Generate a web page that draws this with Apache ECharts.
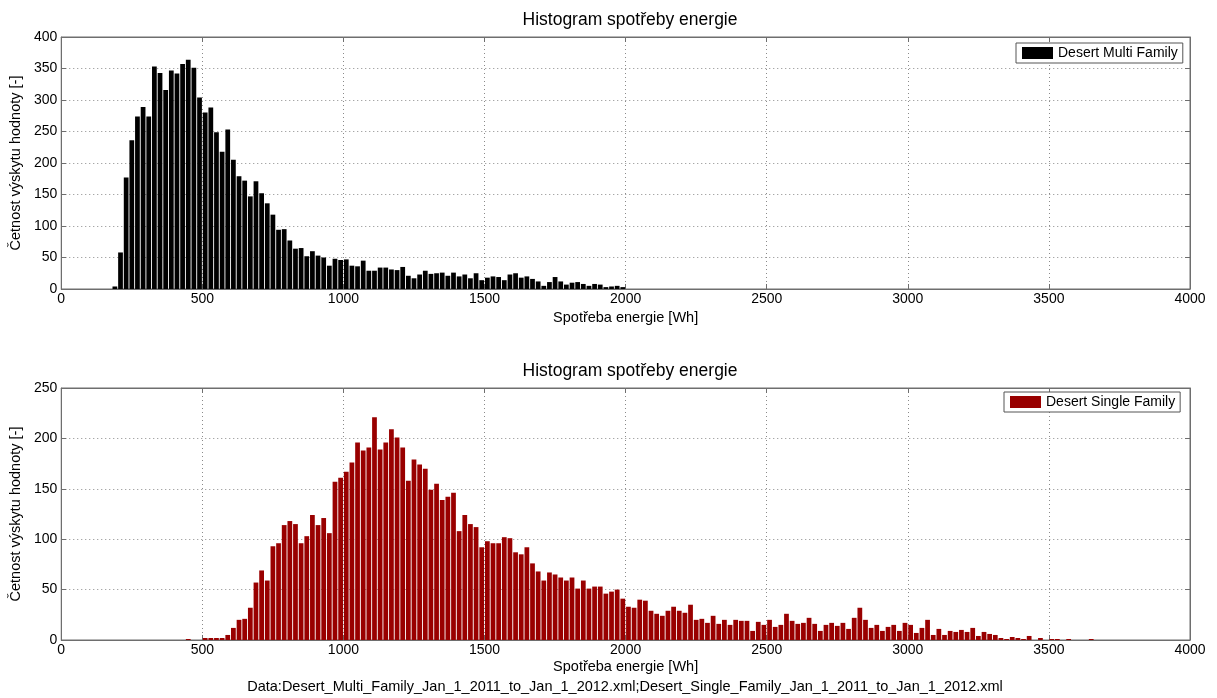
<!DOCTYPE html>
<html>
<head>
<meta charset="utf-8">
<script src="https://cdn.jsdelivr.net/npm/echarts@6/dist/echarts.min.js"></script>
<style>
  html, body { margin: 0; padding: 0; background: #fff; }
  #chart { width: 1217px; height: 698px; }
</style>
</head>
<body>
<div id="chart"></div>
<script>
// Histogram bins: 20 Wh wide, counts listed from the first non-empty bin
const binWidth = 20;
const xTicks = [0, 500, 1000, 1500, 2000, 2500, 3000, 3500, 4000];

const multiFamilyName = 'Desert Multi Family';
const multiFamilyStart = 180;
const multiFamilyCounts = [
  4, 58, 177, 236, 274, 289, 274, 353, 343, 316,
  347, 342, 357, 364, 351, 304, 280, 288, 249, 218,
  253, 205, 179, 172, 147, 171, 152, 136, 118, 94,
  95, 77, 64, 65, 52, 60, 53, 50, 37, 48,
  46, 47, 37, 36, 45, 29, 29, 34, 34, 31,
  30, 35, 21, 17, 23, 29, 24, 25, 26, 21,
  26, 20, 23, 17, 25, 14, 18, 20, 19, 14,
  23, 25, 18, 20, 16, 12, 5, 11, 19, 12,
  7, 10, 11, 8, 5, 8, 7, 3, 4, 5,
  3
];

const singleFamilyName = 'Desert Single Family';
const singleFamilyStart = 440;
const singleFamilyCounts = [
  1, 0, 0, 2, 2, 2, 2, 5, 12, 20,
  21, 32, 57, 69, 59, 93, 96, 114, 118, 115,
  96, 103, 124, 114, 121, 106, 157, 161, 167, 176,
  196, 188, 191, 221, 189, 196, 209, 201, 191, 158,
  179, 174, 170, 149, 155, 139, 142, 146, 108, 124,
  115, 112, 92, 98, 96, 96, 102, 101, 87, 85,
  92, 76, 68, 59, 67, 65, 62, 59, 62, 51,
  59, 51, 53, 53, 46, 48, 50, 41, 33, 32,
  40, 39, 29, 26, 24, 29, 33, 29, 27, 35,
  20, 21, 17, 24, 16, 20, 15, 20, 19, 19,
  9, 18, 15, 20, 13, 15, 26, 19, 16, 17,
  22, 16, 9, 15, 17, 14, 17, 11, 22, 32,
  20, 12, 15, 9, 13, 15, 9, 17, 15, 7,
  12, 20, 5, 11, 5, 9, 8, 10, 8, 12,
  4, 8, 6, 5, 2, 1, 3, 2, 1, 4,
  0, 2, 0, 1, 1, 0, 1, 0, 0, 0,
  1
];

const chartTitle = 'Histogram spotřeby energie';
const xName = 'Spotřeba energie [Wh]';
const yName = 'Četnost výskytu hodnoty [-]';
const footerText = 'Data:Desert_Multi_Family_Jan_1_2011_to_Jan_1_2012.xml;Desert_Single_Family_Jan_1_2011_to_Jan_1_2012.xml';

function toPoints(start, counts) {
  return counts.map((c, i) => [start + i * binWidth + binWidth / 2, c]);
}

const FONT = 'Liberation Sans, Arial, Helvetica, sans-serif';
const AXIS_COLOR = '#6e6e6e';
const GRID_COLOR = '#8a8a8a';
const PLOT_LEFT = 60, PLOT_RIGHT = 1190;
const TICK_FONT = 14, NAME_FONT = 14.5;

const plots = [
  { top: 37, height: 252, yMax: 400, yStep: 50, nameGap: 21 },
  { top: 388, height: 252, yMax: 250, yStep: 50, nameGap: 19 }
];

const grids = plots.map(p => ({
  left: PLOT_LEFT, width: PLOT_RIGHT - PLOT_LEFT, top: p.top, height: p.height,
  show: true, borderColor: AXIS_COLOR, borderWidth: 1, backgroundColor: '#fff'
}));

const xAxes = [], yAxes = [];
plots.forEach((p, g) => {
  // primary bottom axis with labels and dotted grid
  xAxes.push({
    gridIndex: g, type: 'value', min: 0, max: 4000, interval: 500, position: 'bottom',
    name: xName, nameLocation: 'middle', nameGap: p.nameGap,
    nameTextStyle: { fontFamily: FONT, fontSize: NAME_FONT, color: '#000' },
    axisLine: { show: true, onZero: false, lineStyle: { color: AXIS_COLOR } },
    axisTick: { show: true, inside: true, length: 5, lineStyle: { color: AXIS_COLOR } },
    axisLabel: { fontFamily: FONT, fontSize: TICK_FONT, color: '#000', margin: 3,
      formatter: v => xTicks.includes(v) ? String(v) : '' },
    splitLine: { show: true, lineStyle: { color: GRID_COLOR, type: [1, 3], width: 1 } }
  });
  // mirrored top axis carrying only ticks
  xAxes.push({
    gridIndex: g, type: 'value', min: 0, max: 4000, interval: 500, position: 'top',
    axisLine: { show: true, onZero: false, lineStyle: { color: AXIS_COLOR } },
    axisTick: { show: true, inside: true, length: 5, lineStyle: { color: AXIS_COLOR } },
    axisLabel: { show: false }, splitLine: { show: false }
  });
  yAxes.push({
    gridIndex: g, type: 'value', min: 0, max: p.yMax, interval: p.yStep, position: 'left',
    name: yName, nameLocation: 'middle', nameGap: 31, nameRotate: 90,
    nameTextStyle: { fontFamily: FONT, fontSize: NAME_FONT, color: '#000' },
    axisLine: { show: true, onZero: false, lineStyle: { color: AXIS_COLOR } },
    axisTick: { show: true, inside: true, length: 5, lineStyle: { color: AXIS_COLOR } },
    axisLabel: { fontFamily: FONT, fontSize: TICK_FONT, color: '#000', margin: 4 },
    splitLine: { show: true, lineStyle: { color: GRID_COLOR, type: [1, 3], width: 1 } }
  });
  yAxes.push({
    gridIndex: g, type: 'value', min: 0, max: p.yMax, interval: p.yStep, position: 'right',
    axisLine: { show: true, onZero: false, lineStyle: { color: AXIS_COLOR } },
    axisTick: { show: true, inside: true, length: 5, lineStyle: { color: AXIS_COLOR } },
    axisLabel: { show: false }, splitLine: { show: false }
  });
});

const barPx = (PLOT_RIGHT - PLOT_LEFT) / (4000 / binWidth);

const legendBase = {
  orient: 'vertical', icon: 'rect', itemWidth: 31, itemHeight: 12, itemGap: 0,
  padding: [3, 5, 3, 6], borderColor: '#555', borderWidth: 1, borderRadius: 0,
  backgroundColor: '#fff', selectedMode: false,
  textStyle: { fontFamily: FONT, fontSize: 14, color: '#000' }
};

const option = {
  animation: false,
  backgroundColor: '#fff',
  textStyle: { fontFamily: FONT },
  title: [
    { text: chartTitle, left: (PLOT_LEFT + PLOT_RIGHT) / 2, top: 6, textAlign: 'center',
      textStyle: { fontFamily: FONT, fontSize: 17.5, fontWeight: 'normal', color: '#000' } },
    { text: chartTitle, left: (PLOT_LEFT + PLOT_RIGHT) / 2, top: 357, textAlign: 'center',
      textStyle: { fontFamily: FONT, fontSize: 17.5, fontWeight: 'normal', color: '#000' } },
    { text: footerText, left: (PLOT_LEFT + PLOT_RIGHT) / 2, top: 678, padding: 0, textAlign: 'center',
      textStyle: { fontFamily: FONT, fontSize: 14.5, lineHeight: 18, fontWeight: 'normal', color: '#000' } }
  ],
  legend: [
    Object.assign({ data: [multiFamilyName], left: 1016, top: 43 }, legendBase),
    Object.assign({ data: [singleFamilyName], left: 1004, top: 392 }, legendBase)
  ],
  grid: grids,
  xAxis: xAxes,
  yAxis: yAxes,
  series: [
    { name: multiFamilyName, type: 'bar', xAxisIndex: 0, yAxisIndex: 0,
      data: toPoints(multiFamilyStart, multiFamilyCounts),
      barWidth: barPx - 0.9, itemStyle: { color: '#000' } },
    { name: singleFamilyName, type: 'bar', xAxisIndex: 2, yAxisIndex: 2,
      data: toPoints(singleFamilyStart, singleFamilyCounts),
      barWidth: barPx - 0.9, itemStyle: { color: '#990000' } }
  ]
};

const chart = echarts.init(document.getElementById('chart'), null, { renderer: 'canvas' });
chart.setOption(option);
</script>
</body>
</html>
